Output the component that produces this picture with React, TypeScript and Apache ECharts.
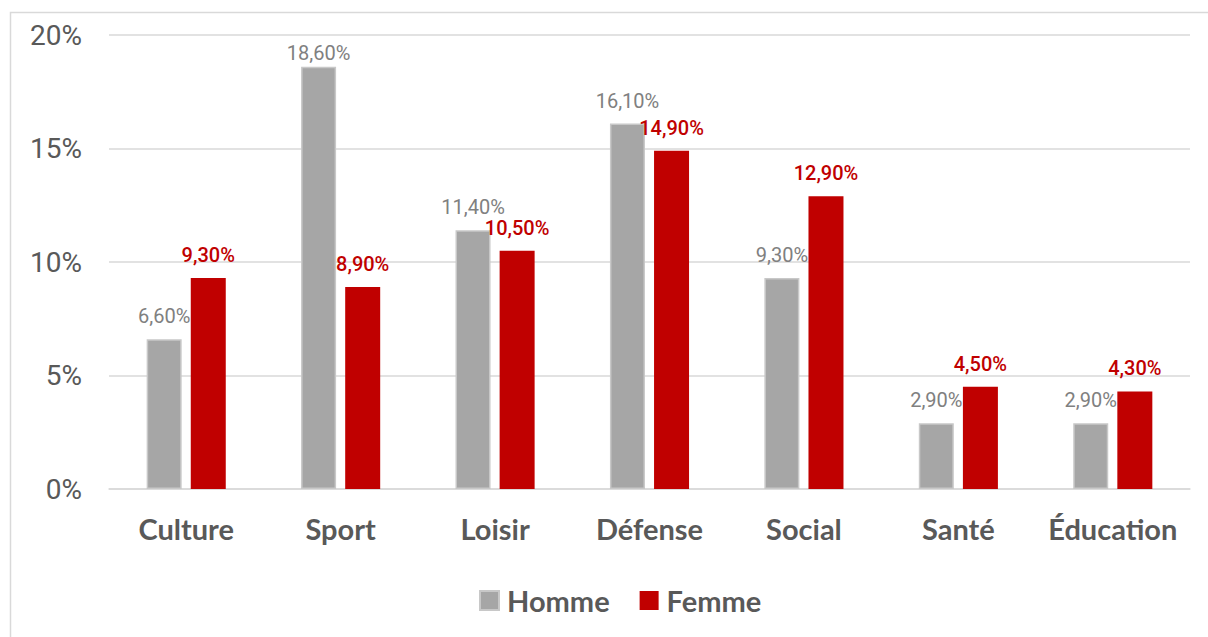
import React, { useEffect, useRef } from "react";
import * as echarts from "echarts";

const categories = ["Culture", "Sport", "Loisir", "Défense", "Social", "Santé", "Éducation"];
const homme = [6.6, 18.6, 11.4, 16.1, 9.3, 2.9, 2.9];
const femme = [9.3, 8.9, 10.5, 14.9, 12.9, 4.5, 4.3];
const yTicks = [0, 5, 10, 15, 20];

const fmt = (v: number) => v.toFixed(2).replace(".", ",") + "%";

export default function App() {
  const ref = useRef<HTMLDivElement>(null);
  useEffect(() => {
    if (!ref.current) return;
    const chart = echarts.init(ref.current, undefined, { renderer: "svg" });
    chart.setOption({
      animation: false,
      backgroundColor: "#ffffff",
      graphic: [
        {
          type: "rect",
          shape: { x: 10.5, y: 12.5, width: 1230, height: 660 },
          style: { fill: "none", stroke: "#d9d9d9", lineWidth: 1.5 },
          silent: true,
          z: -1,
        },
      ],
      grid: { left: 109, right: 18, top: 35, bottom: 148, containLabel: false },
      legend: {
        data: ["Homme", "Femme"],
        left: 474,
        top: 581,
        itemWidth: 19,
        itemHeight: 19,
        itemGap: 30,
        icon: "rect",
        textStyle: { fontFamily: "Lato", fontWeight: "bold", fontSize: 29, color: "#595959", padding: [0, 0, 0, 3] },
      },
      xAxis: {
        type: "category",
        data: categories,
        axisTick: { show: false },
        axisLine: { lineStyle: { color: "#d9d9d9", width: 1.5 } },
        axisLabel: { interval: 0, fontFamily: "Lato", fontWeight: "bold", fontSize: 29, color: "#595959", margin: 25 },
      },
      yAxis: {
        type: "value",
        min: yTicks[0],
        max: yTicks[yTicks.length - 1],
        interval: 5,
        axisLine: { show: false },
        axisTick: { show: false },
        splitLine: { lineStyle: { color: "#d9d9d9", width: 1.5 } },
        axisLabel: {
          formatter: (v: number) => v + "%",
          fontFamily: "Roboto",
          fontSize: 28,
          color: "#595959",
          margin: 27,
        },
      },
      series: [
        {
          name: "Homme",
          type: "bar",
          data: homme.map((v, i) => ({
            value: v,
            label: i === 1 ? { distance: 4 } : undefined,
          })),
          barWidth: 35,
          barGap: "26%",
          itemStyle: { color: "#a6a6a6", borderColor: "#c8c8c8", borderWidth: 1.5 },
          label: {
            show: true,
            position: "top",
            distance: 13,
            formatter: (p: any) => fmt(p.value),
            fontFamily: "Roboto",
            fontSize: 20,
            color: "#808080",
          },
        },
        {
          name: "Femme",
          type: "bar",
          data: femme,
          barWidth: 35,
          itemStyle: { color: "#c00000" },
          label: {
            show: true,
            position: "top",
            distance: 13,
            formatter: (p: any) => fmt(p.value),
            fontFamily: "Roboto",
            fontWeight: 500,
            fontSize: 20,
            color: "#c00000",
          },
        },
      ],
    });
    return () => chart.dispose();
  }, []);
  return (
    <div
      ref={ref}
      style={{ position: "absolute", left: 0, top: 0, width: 1208, height: 637 }}
    />
  );
}
